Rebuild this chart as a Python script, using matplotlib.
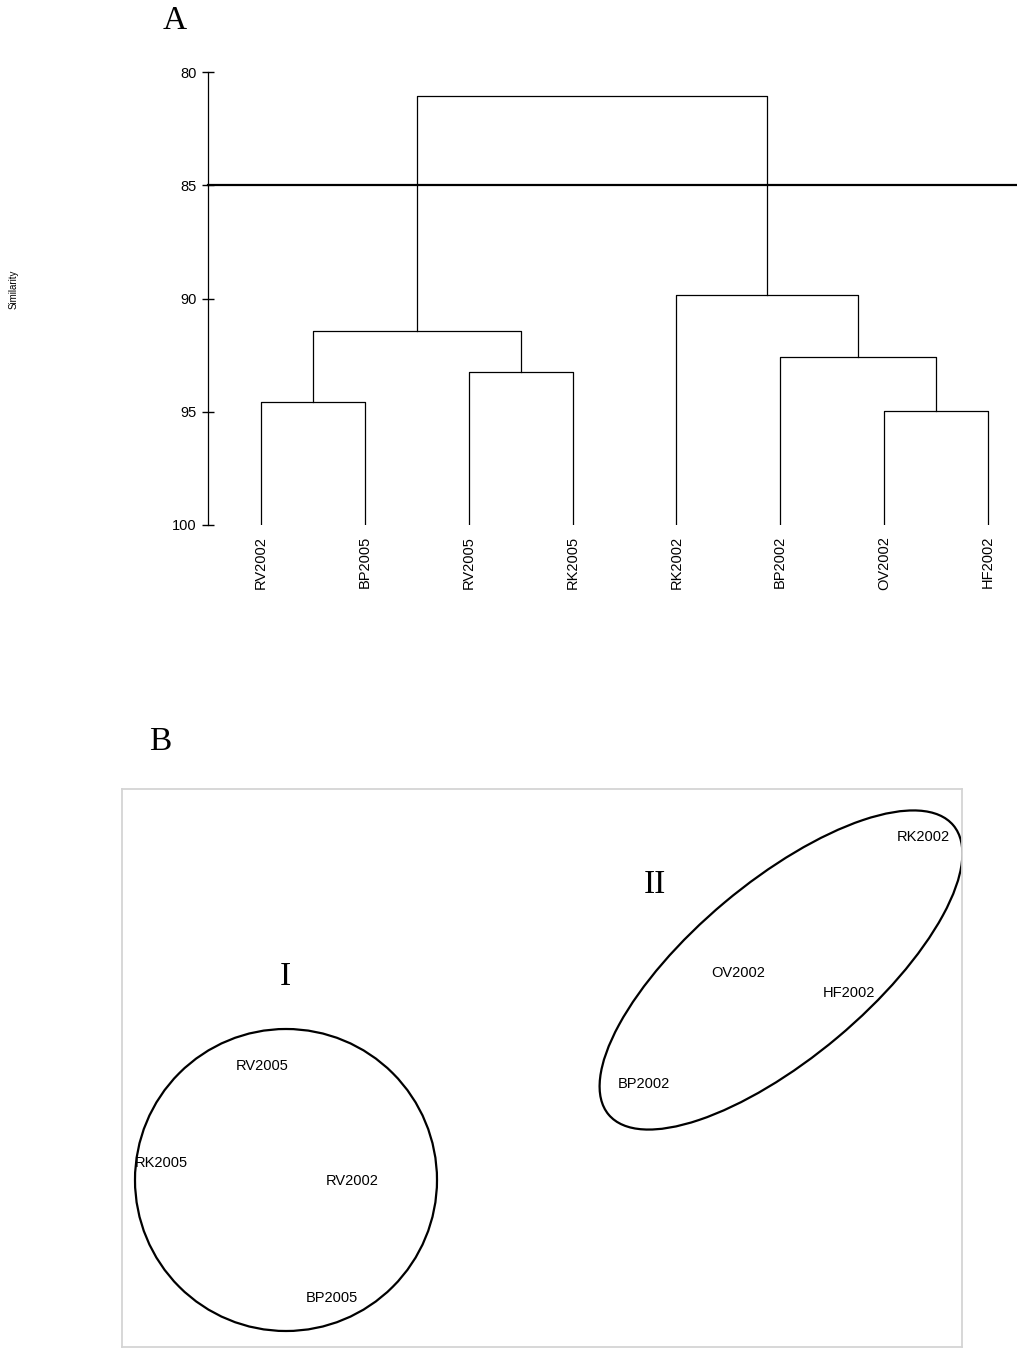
import numpy as np
import matplotlib.pyplot as plt
from matplotlib.patches import Ellipse, Circle

plt.rcParams['font.family'] = ['Liberation Sans', 'DejaVu Sans']

# Dendrogram (A): leaf order and merges (left, right, similarity)
leaves = ['RV2002', 'BP2005', 'RV2005', 'RK2005', 'RK2002', 'BP2002', 'OV2002', 'HF2002']
merges = [
    ('RV2002', 'BP2005', 94.55),
    ('RV2005', 'RK2005', 93.25),
    ('OV2002', 'HF2002', 94.95),
    ('BP2002', 'c2', 92.6),
    ('c0', 'c1', 91.45),
    ('RK2002', 'c3', 89.85),
    ('c4', 'c5', 81.05),
]
cut_level = 85
y_ticks = [80, 85, 90, 95, 100]

# MDS plot (B)
mds_labels = ['RV2005', 'RK2005', 'RV2002', 'BP2005', 'BP2002', 'OV2002', 'HF2002', 'RK2002']
mds_x = [1.40, 0.39, 2.30, 2.10, 5.22, 6.16, 7.27, 8.01]
mds_y = [2.81, 1.84, 1.66, 0.49, 2.63, 3.74, 3.54, 5.10]

W, H = 1017, 1349
fig = plt.figure(figsize=(W / 100, H / 100), dpi=100)

# ---- A: dendrogram ----
ax = fig.add_axes([208 / W, 1 - 525 / H, 809 / W, 453 / H])
pos = {name: i + 1 for i, name in enumerate(leaves)}
height = {name: 100 for name in leaves}
for k, (a, b, h) in enumerate(merges):
    xa, xb = pos[a], pos[b]
    ax.plot([xa, xa, xb, xb], [height[a], h, h, height[b]], color='black', lw=0.9)
    pos['c%d' % k] = (xa + xb) / 2
    height['c%d' % k] = h

ax.axhline(cut_level, color='black', lw=1.6, clip_on=False)
ax.set_xlim(0.49, 8.28)
ax.set_ylim(100, 80)
ax.set_yticks(y_ticks)
ax.set_xticks(range(1, len(leaves) + 1))
ax.set_xticklabels(leaves, rotation=90, fontsize=10.5)
ax.tick_params(axis='x', length=0, pad=8)
ax.tick_params(axis='y', direction='inout', length=8, width=1, labelsize=10.5, pad=4)
for s in ['top', 'right', 'bottom']:
    ax.spines[s].set_visible(False)
ax.spines['left'].set_linewidth(0.9)

fig.text(14 / W, 1 - 289 / H, 'Similarity', rotation=90, fontsize=7,
         ha='center', va='center')
fig.text(175 / W, 1 - 21 / H, 'A', fontsize=24, family='Liberation Serif',
         ha='center', va='center')

# ---- B: MDS ----
bx = fig.add_axes([122 / W, 1 - 1347 / H, 840 / W, 558 / H])
bx.set_xlim(0, 8.4)
bx.set_ylim(0, 5.58)
bx.set_xticks([])
bx.set_yticks([])
for s in bx.spines.values():
    s.set_color('#d4d4d4')
    s.set_linewidth(1.3)

for lab, x, y in zip(mds_labels, mds_x, mds_y):
    bx.text(x, y, lab, fontsize=10.5, ha='center', va='center')

bx.add_patch(Circle((1.64, 1.67), 1.51, fill=False, color='black', lw=1.6))
bx.add_patch(Ellipse((6.59, 3.77), 4.50, 1.76, angle=40, fill=False,
                     color='black', lw=1.6))
bx.text(1.63, 3.70, 'I', fontsize=24, family='Liberation Serif', ha='center', va='center')
bx.text(5.33, 4.62, 'II', fontsize=24, family='Liberation Serif', ha='center', va='center')

fig.text(160 / W, 1 - 742 / H, 'B', fontsize=24, family='Liberation Serif',
         ha='center', va='center')

fig.savefig('out.png', dpi=100)
